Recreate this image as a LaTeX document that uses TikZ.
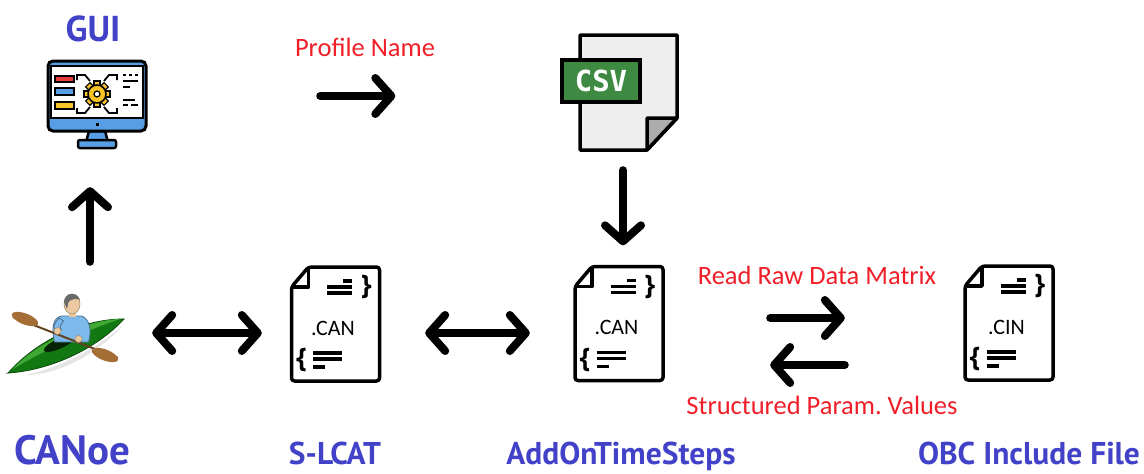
\documentclass[tikz,border=0pt]{standalone}
\usepackage{fontspec}
\setmainfont{Carlito}
\newfontfamily\headfont{PT Sans}
\newfontfamily\bracefont{Open Sans}
\newfontfamily\csvfont{DejaVu Sans Mono}
\usetikzlibrary{arrows.meta}
\frenchspacing

\definecolor{labelblue}{RGB}{66,66,200}
\definecolor{notered}{RGB}{240,30,40}
\definecolor{screenblue}{RGB}{88,158,228}
\definecolor{gearyellow}{RGB}{248,196,40}
\definecolor{barred}{RGB}{232,60,60}
\definecolor{csvgreen}{RGB}{62,138,66}
\definecolor{pagegray}{RGB}{238,238,238}
\definecolor{foldgray}{RGB}{172,172,172}
\definecolor{hullgreen}{RGB}{18,120,18}
\definecolor{hulllight}{RGB}{62,168,50}
\definecolor{shirtblue}{RGB}{125,185,235}
\definecolor{skin}{RGB}{236,200,160}
\definecolor{hair}{RGB}{105,105,105}
\definecolor{paddlebrown}{RGB}{165,110,55}

% source file icon with folded corner, braces and code lines
\newcommand{\codefile}[2]{%
  \begin{scope}[shift={(#1.center)}]
    \draw[outline,fill=white,rounded corners=3pt] (-27,-57) -- (44,-57) -- (44,57) -- (-44,57) -- (-44,-37) -- cycle;
    \draw[outline] (-44,-37) -- (-27,-37) -- (-27,-57);
    \draw[line width=3.5pt] (7.5,-43) -- (16.5,-43) (-8.5,-37) -- (16.5,-37) (-8.5,-31) -- (16.5,-31);
    \draw[line width=3.5pt] (-22.5,29) -- (6.5,29) (-22.5,35) -- (6.5,35) (-22.5,43) -- (-10.5,43);
    \node[font=\bracefont\bfseries\fontsize{27}{27}\selectfont] (#1-rb) at (31,-37) {\}};
    \node[font=\bracefont\bfseries\fontsize{27}{27}\selectfont] (#1-lb) at (-34,36) {\{};
    \node[font=\fontsize{22}{22}\selectfont] (#1-ext) at (-2.5,4) {#2};
  \end{scope}}

\begin{document}
\begin{tikzpicture}[x=1pt,y=-1pt,
    iconbox/.style 2 args={inner sep=0pt,minimum width=#1,minimum height=#2},
    outline/.style={draw=black,line width=3.5pt,line join=round},
    fat/.style={line width=8pt,line cap=round,-{Straight Barb[length=16pt,width=36pt,round]}},
    fatboth/.style={line width=8pt,line cap=round,{Straight Barb[length=16pt,width=36pt,round]}-{Straight Barb[length=16pt,width=36pt,round]}},
    headlabel/.style={text=labelblue,font=\headfont\bfseries\fontsize{31.5}{34}\selectfont},
    footlabel/.style={headlabel,anchor=base,inner sep=1pt},
    redlabel/.style={text=notered,font=\fontsize{26.5}{30}\selectfont}]
  \useasboundingbox (0,0) rectangle (1144,474);

  % icon places
  \node[iconbox={98pt}{90pt}] (gui) at (97,105) {};
  \node[iconbox={115pt}{115pt}] (csv) at (620,92.5) {};
  \node[iconbox={115pt}{80pt}] (canoe) at (67.5,330) {};
  \node[iconbox={88pt}{114pt}] (slcat) at (335.5,324) {};
  \node[iconbox={88pt}{114pt}] (addon) at (619,323.5) {};
  \node[iconbox={88pt}{114pt}] (obc) at (1009,323) {};

  % monitor
  \begin{scope}[shift={(gui.center)}]
    \filldraw[fill=screenblue,line width=2.5pt,line join=round] (-8,26) -- (8,26) -- (11,37) -- (-11,37) -- cycle;
    \filldraw[fill=screenblue,line width=2.5pt,rounded corners=2pt] (-19,35) rectangle (19,43);
    \filldraw[fill=screenblue,line width=3pt,rounded corners=5pt] (-49,-44) rectangle (49,26);
    \filldraw[fill=white,line width=2pt] (-46,-39) rectangle (46,13);
    \fill (-1.5,17.5) rectangle (1.5,20.5);
    \filldraw[fill=barred,line width=1.5pt] (-42,-29) rectangle (-23,-23);
    \filldraw[fill=screenblue,line width=1.5pt] (-42,-17) rectangle (-23,-10);
    \filldraw[fill=gearyellow,line width=1.5pt] (-42,-3) rectangle (-23,4);
    \foreach \a in {0,45,...,315}
      \filldraw[fill=gearyellow,line width=1.2pt,rotate around={\a:(0,-11)}] (-3,-24) rectangle (3,-18);
    \filldraw[fill=gearyellow,line width=1.5pt] (0,-11) circle (9pt);
    \filldraw[fill=white,line width=1.2pt] (0,-11) circle (3pt);
    \foreach \sx in {-1,1} {
      \draw[line width=1.8pt] (\sx*20,-25) -- (\sx*20,-30) -- (\sx*12,-30) -- (\sx*7,-24);
      \draw[line width=1.8pt] (\sx*20,3) -- (\sx*20,8) -- (\sx*12,8) -- (\sx*7,2);
    }
    \draw[line width=2pt] (26,-30) -- (29,-30) (32,-30) -- (35,-30) (38,-30) -- (41,-30)
      (26,-24) -- (41,-24) (26,-18) -- (33,-18) (26,-5) -- (38,-5) (26,0) -- (31,0) (34,0) -- (41,0);
  \end{scope}

  % csv sheet
  \begin{scope}[shift={(csv.center)}]
    \filldraw[fill=pagegray,line width=3.5pt,line join=round] (-40,-57.5) -- (57,-57.5) -- (57,25.5) -- (27,57.5) -- (-40,57.5) -- cycle;
    \filldraw[fill=foldgray,line width=3.5pt,line join=round] (27,25.5) -- (57,25.5) -- (27,57.5) -- cycle;
    \filldraw[fill=csvgreen,line width=4pt] (-58,-32.5) rectangle (20,9.5);
    \node[text=white,font=\csvfont\bfseries\fontsize{29}{29}\selectfont] (csv-tag) at (-19,-11.5) {CSV};
  \end{scope}

  % paddler
  \begin{scope}[shift={(canoe.center)}]
    \begin{scope}[shift={(-1.5,16)},rotate=25]
      \fill[gray!20] (-50,9) .. controls (-10,18) and (30,14) .. (62,5) .. controls (20,22) and (-20,22) .. cycle;
      \filldraw[fill=hullgreen,draw=hullgreen!60!black,line width=0.8pt] (-64,0) .. controls (-25,-17) and (25,-18) .. (64,0) .. controls (25,16) and (-25,15) .. cycle;
      \fill[hulllight] (-59,-1.5) .. controls (-25,-15) and (25,-16) .. (61,-1.5) .. controls (25,-6) and (-25,-5) .. cycle;
      \fill[black!70!hullgreen] (-4,-5) ellipse (18pt and 5pt);
    \end{scope}
    \filldraw[fill=shirtblue,draw=shirtblue!60!black,line width=0.8pt] (-13,12) .. controls (-16,-2) and (-15,-12) .. (-6,-14) -- (14,-14) .. controls (23,-11) and (24,2) .. (21,12) -- cycle;
    \fill[skin] (1.5,-18) rectangle (8.5,-13);
    \filldraw[fill=skin,draw=skin!70!black,line width=0.6pt] (4.5,-26) ellipse (8pt and 10pt);
    \fill[hair] (-3.5,-28) .. controls (-3,-38) and (10,-39) .. (12.5,-30) .. controls (10,-32) and (3,-31) .. (1,-28) -- (-0.5,-21) -- cycle;
    \draw[paddlebrown!60!black,line width=2pt] (-54.5,-13) -- (50.5,28);
    \fill[paddlebrown,rotate around={-21:(-42.5,-11)}] (-42.5,-11) ellipse (14pt and 5.5pt);
    \fill[paddlebrown,rotate around={-21:(37.5,25)}] (37.5,25) ellipse (14pt and 5.5pt);
    \filldraw[fill=shirtblue,draw=shirtblue!60!black,line width=0.8pt] (-8,-12) .. controls (-15,-6) and (-15,0) .. (-10,2) -- (-6,0) .. controls (-8,-4) .. (-4,-9) -- cycle;
    \filldraw[fill=skin,draw=skin!70!black,line width=0.5pt] (-10,1) circle (3.5pt);
    \filldraw[fill=skin,draw=skin!70!black,line width=0.5pt] (11,9) circle (3.5pt);
  \end{scope}

  % script files
  \codefile{slcat}{.CAN}
  \codefile{addon}{.CAN}
  \codefile{obc}{.CIN}

  % flow arrows
  \draw[fat,shorten <=28pt,shorten >=37pt] ([xshift=22.5pt]canoe.north) -- ([xshift=-7pt]gui.south);
  \draw[fat,shorten <=174pt,shorten >=167pt] ([yshift=9pt]gui.east) -- ([yshift=-3.5pt]csv.west);
  \draw[fat,shorten <=20pt,shorten >=21pt] ([xshift=3pt]csv.south) -- ([xshift=4pt]addon.north);
  \draw[fatboth,shorten <=27pt,shorten >=29.5pt] ([yshift=-3pt]canoe.east) -- ([yshift=-9pt]slcat.west);
  \draw[fatboth,shorten <=45.5pt,shorten >=45pt] ([yshift=-9pt]slcat.east) -- ([yshift=-9.5pt]addon.west);
  \draw[fat,shorten <=107pt,shorten >=120pt] ([yshift=5.5pt]addon.east) -- ([yshift=5pt]obc.west);
  \draw[fat,shorten <=120pt,shorten >=107pt] ([yshift=-42pt]obc.west) -- ([yshift=-41.5pt]addon.east);

  % texts
  \node[headlabel,font=\headfont\bfseries\fontsize{36}{40}\selectfont] (guilabel) at (93,29) {GUI};
  \node[redlabel] (profile) at (365,47) {Profile Name};
  \node[redlabel] (readraw) at (817,275) {Read Raw Data Matrix};
  \node[redlabel] (structured) at (822,405) {Structured Param. Values};
  \node[footlabel,font=\headfont\bfseries\fontsize{41}{44}\selectfont] (canoelabel) at (72,464) {CANoe};
  \node[footlabel] (slcatlabel) at (335,464) {S-LCAT};
  \node[footlabel] (addonlabel) at (621,464) {AddOnTimeSteps};
  \node[footlabel] (obclabel) at (1029,464) {OBC Include File};
\end{tikzpicture}
\end{document}
